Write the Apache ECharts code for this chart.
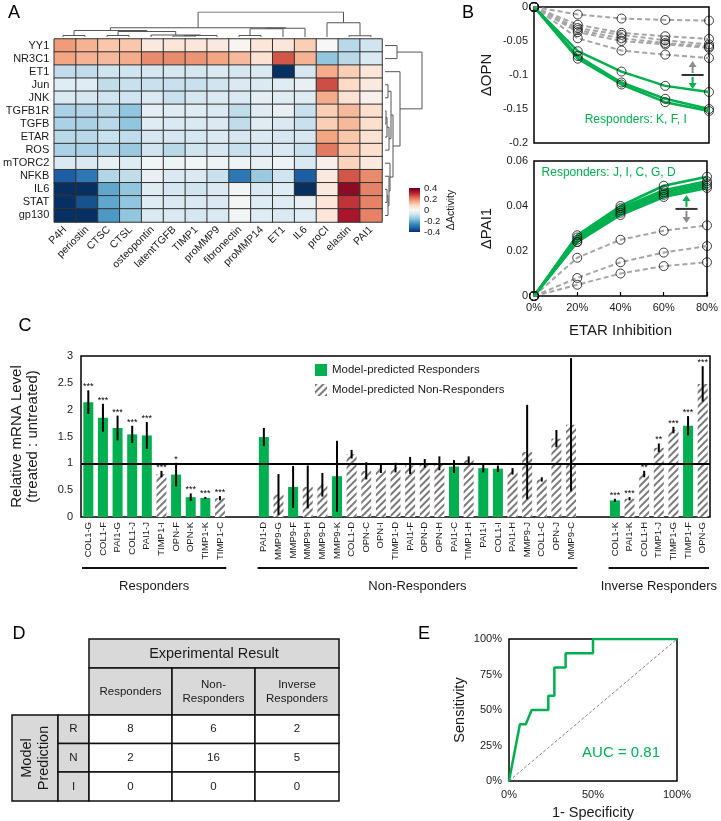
<!DOCTYPE html>
<html><head><meta charset="utf-8">
<script src="https://cdn.jsdelivr.net/npm/echarts@6/dist/echarts.min.js"></script>
<style>html,body{margin:0;padding:0;background:#fff}#c{width:721px;height:821px}</style>
</head><body><div id="c"></div>
<script>
const FONT = '"Liberation Sans", Arial, sans-serif';
const GREEN = '#00b050';
const TXT = '#1a1a1a';

// ---------- Panel A data ----------
const heatCols = ['P4H','periostin','CTSC','CTSL','osteopontin','latentTGFB','TIMP1','proMMP9','fibronectin','proMMP14','ET1','IL6','proCI','elastin','PAI1'];
const heatRows = ['YY1','NR3C1','ET1','Jun','JNK','TGFB1R','TGFB','ETAR','ROS','mTORC2','NFKB','IL6','STAT','gp130'];
const heatValues = [
  [0.17,0.14,0.11,0.11,0.04,0.05,0.05,0.04,0.01,0.05,0.05,0.10,0.00,-0.11,-0.08],
  [0.16,0.14,0.13,0.15,0.19,0.19,0.18,0.16,0.13,0.06,0.25,0.14,-0.16,-0.11,-0.06],
  [-0.10,-0.10,-0.08,-0.08,-0.07,-0.07,-0.07,-0.06,-0.07,-0.06,-0.45,-0.07,0.15,0.10,0.05],
  [-0.05,-0.05,-0.10,-0.09,-0.09,-0.09,-0.09,-0.08,-0.06,-0.06,-0.05,-0.03,0.26,0.08,0.04],
  [-0.06,-0.07,-0.08,-0.08,-0.06,-0.09,-0.07,-0.06,-0.06,-0.04,-0.05,-0.05,0.15,0.06,0.02],
  [-0.13,-0.12,-0.11,-0.16,-0.04,-0.05,-0.05,-0.06,-0.10,-0.05,-0.03,-0.09,0.10,0.13,0.07],
  [-0.13,-0.13,-0.11,-0.16,-0.05,-0.06,-0.06,-0.06,-0.10,-0.05,-0.06,-0.09,0.10,0.13,0.07],
  [-0.11,-0.11,-0.09,-0.10,-0.07,-0.07,-0.07,-0.06,-0.07,-0.06,-0.07,-0.07,0.16,0.11,0.06],
  [-0.13,-0.13,-0.12,-0.15,-0.08,-0.11,-0.08,-0.07,-0.09,-0.07,-0.06,-0.09,0.21,0.11,0.07],
  [-0.06,-0.06,-0.03,-0.05,-0.01,-0.02,-0.01,-0.02,-0.02,-0.03,-0.02,-0.06,0.02,0.09,0.04],
  [-0.33,-0.29,-0.12,-0.10,-0.03,-0.06,-0.06,-0.09,-0.29,-0.15,-0.08,-0.33,0.04,0.25,0.19],
  [-0.45,-0.45,-0.21,-0.16,-0.05,-0.07,-0.08,-0.06,-0.01,-0.06,-0.05,-0.45,0.04,0.36,0.20],
  [-0.45,-0.35,-0.21,-0.16,-0.05,-0.06,-0.06,-0.06,-0.01,-0.05,-0.05,-0.03,0.05,0.29,0.20],
  [-0.45,-0.45,-0.23,-0.16,-0.06,-0.06,-0.07,-0.06,-0.01,-0.05,-0.06,-0.05,0.05,0.33,0.20]
];
const colorbarTicks = [-0.4, 0.4, 0.2];
// dendrogram linkages: [childA, childB, height]
const colMerges = [[5,6,0.04],[15,7,0.06],[4,16,0.08],[2,3,0.06],[18,17,0.22],[0,1,0.06],[20,19,0.26],[8,9,0.06],[22,10,0.33],[23,11,0.35],[21,24,0.37],[13,14,0.05],[12,26,0.57],[25,27,1.0]];
const rowMerges = [[0,1,12],[5,6,1],[15,7,2],[16,8,4],[3,4,3],[18,17,6],[11,12,2],[20,13,3],[10,21,4],[9,22,5],[19,23,8],[2,24,15],[14,25,37]];

// ---------- Panel B data ----------
const etarLevels = [0,20,40,60,80];
const opnGray = [
  [0,-0.011,-0.017,-0.019,-0.020],
  [0,-0.026,-0.038,-0.043,-0.047],
  [0,-0.031,-0.041,-0.049,-0.055],
  [0,-0.034,-0.046,-0.053,-0.058],
  [0,-0.037,-0.050,-0.055,-0.060],
  [0,-0.046,-0.064,-0.070,-0.075]
];
const opnGreen = [
  [0,-0.065,-0.095,-0.116,-0.125],
  [0,-0.072,-0.111,-0.135,-0.150],
  [0,-0.076,-0.114,-0.140,-0.153]
];
const pai1Gray = [
  [0,0.017,0.025,0.029,0.0314],
  [0,0.008,0.015,0.0193,0.0222],
  [0,0.005,0.010,0.0133,0.015]
];
const pai1Green = [
  [0,0.027,0.040,0.049,0.053],
  [0,0.026,0.039,0.047,0.051],
  [0,0.025,0.038,0.046,0.050],
  [0,0.024,0.037,0.045,0.049],
  [0,0.024,0.036,0.044,0.048]
];

// ---------- Panel C data ----------
const respGenes = ['COL1-G','COL1-F','PAI1-G','COL1-J','PAI1-J','TIMP1-I','OPN-F','OPN-K','TIMP1-K','TIMP1-C'];
const respMeans = [2.14,1.85,1.66,1.54,1.52,0.80,0.79,0.37,0.355,0.35];
const respErr   = [0.22,0.26,0.23,0.16,0.25,0.06,0.22,0.07,0.02,0.04];
const respPred  = ['R','R','R','R','R','N','R','R','R','N'];
const respSig   = ['***','***','***','***','***','***','*','***','***','***'];
const nonGenes = ['PAI1-D','MMP9-G','MMP9-F','MMP9-H','MMP9-D','MMP9-K','COL1-D','OPN-C','OPN-I','TIMP1-D','PAI1-F','OPN-D','OPN-H','PAI1-C','TIMP1-H','PAI1-I','COL1-I','PAI1-H','MMP9-J','COL1-C','OPN-J','MMP9-C'];
const nonMeans = [1.49,0.42,0.56,0.56,0.60,0.76,1.17,0.86,0.90,0.92,0.96,1.00,1.00,0.94,1.06,0.91,0.90,0.85,1.21,0.70,1.46,1.72];
const nonErr   = [0.17,0.38,0.39,0.40,0.22,0.66,0.08,0.16,0.08,0.09,0.16,0.08,0.13,0.12,0.07,0.08,0.06,0.06,0.88,0.04,0.16,1.24];
const nonPred  = ['R','N','R','N','N','R','N','N','N','N','N','N','N','R','N','R','R','N','N','N','N','N'];
const nonSig   = nonGenes.map(() => '');
const invGenes = ['COL1-K','PAI1-K','COL1-H','TIMP1-J','TIMP1-G','TIMP1-F','OPN-G'];
const invMeans = [0.31,0.34,0.80,1.29,1.62,1.70,2.48];
const invErr   = [0.03,0.03,0.06,0.08,0.06,0.18,0.33];
const invPred  = ['R','N','N','N','N','R','N'];
const invSig   = ['***','***','**','**','***','***','***'];
const groupNames = ['Responders','Non-Responders','Inverse Responders'];
const mrnaTicks = [0, 3, 0.5];

// ---------- Panel D data ----------
const tableCols = ['Responders','Non-\nResponders','Inverse\nResponders'];
const tableRows = ['R','N','I'];
const tableCounts = [[8,6,2],[2,16,5],[0,0,0]];

// ---------- Panel E data ----------
const rocFpr = [0,0.065,0.10,0.135,0.234,0.234,0.27,0.27,0.337,0.337,0.5,0.5,1];
const rocTpr = [0,0.40,0.40,0.50,0.50,0.60,0.60,0.80,0.80,0.90,0.90,1.0,1.0];
const aucLabel = 'AUC = 0.81';

// ================= build =================
const RdBu = ['#053061','#2166ac','#4393c3','#92c5de','#d1e5f0','#f7f7f7','#fddbc7','#f4a582','#d6604d','#b2182b','#67001f'];

const heatData = [];
heatValues.forEach((row, r) => row.forEach((v, c) => heatData.push([c, r, v])));

function dendro(merges, n) {
  const pos = [], hgt = [];
  for (let i = 0; i < n; i++) { pos.push(i); hgt.push(0); }
  const segs = [];
  merges.forEach(([a, b, h]) => {
    segs.push([[pos[a], hgt[a]], [pos[a], h], [pos[b], h], [pos[b], hgt[b]]]);
    pos.push((pos[a] + pos[b]) / 2); hgt.push(h);
  });
  return segs;
}
const colSegs = dendro(colMerges, heatCols.length).map(s => ({coords: s}));
const rowSegs = dendro(rowMerges, heatRows.length).map(s => ({coords: s.map(p => [p[1], p[0]])}));

// Panel C categories
const cats = [], barItems = [];
function addGroup(genes, means, errs, preds, sigs) {
  genes.forEach((g, i) => {
    barItems.push({idx: cats.length, mean: means[i], err: errs[i], pred: preds[i], sig: sigs[i]});
    cats.push(g);
  });
}
addGroup(respGenes, respMeans, respErr, respPred, respSig);
const g1 = [0, cats.length - 1];
cats.push(' ', '  ');
addGroup(nonGenes, nonMeans, nonErr, nonPred, nonSig);
const g2 = [g1[1] + 3, cats.length - 1];
cats.push('   ', '    ');
addGroup(invGenes, invMeans, invErr, invPred, invSig);
const g3 = [g2[1] + 3, cats.length - 1];
const groupSpans = [g1, g2, g3];

const respData = cats.map(() => '-');
const nonData = cats.map(() => '-');
barItems.forEach(b => { if (b.pred === 'R') respData[b.idx] = b.mean; else nonData[b.idx] = b.mean; });
const errData = barItems.map(b => [b.idx, b.mean, b.err]);
const errSig = barItems.map(b => b.sig);

const hatch = {symbol: 'rect', symbolSize: 1, dashArrayX: [1, 0], dashArrayY: [1.6, 2.2], rotation: -Math.PI / 4, color: '#7a7a7a'};

const bSeries = [];
function addBLines(arr, gi, color, width, type) {
  arr.forEach(vals => bSeries.push({
    type: 'line', xAxisIndex: gi, yAxisIndex: gi, data: etarLevels.map((x, i) => [x, vals[i]]),
    symbol: 'none', lineStyle: {color: color, width: width, type: type}, silent: true, z: 3
  }));
}
addBLines(opnGray, 4, '#a6a6a6', 2, [5, 3]);
addBLines(opnGreen, 4, GREEN, 2.5, 'solid');
addBLines(pai1Gray, 5, '#a6a6a6', 2, [5, 3]);
addBLines(pai1Green, 5, GREEN, 2.5, 'solid');
function pts(arrs) { const o = []; arrs.forEach(v => etarLevels.forEach((x, i) => o.push([x, v[i]]))); return o; }
const circleStyle = {color: 'rgba(255,255,255,0)', borderColor: '#111', borderWidth: 1};
bSeries.push({type: 'scatter', xAxisIndex: 4, yAxisIndex: 4, data: pts(opnGray.concat(opnGreen)), symbol: 'circle', symbolSize: 9, itemStyle: circleStyle, z: 5, silent: true});
bSeries.push({type: 'scatter', xAxisIndex: 5, yAxisIndex: 5, data: pts(pai1Gray.concat(pai1Green)), symbol: 'circle', symbolSize: 9, itemStyle: circleStyle, z: 5, silent: true});

const axLabel = {color: TXT, fontFamily: FONT, fontSize: 11};
const frame = {show: true, borderColor: '#000', borderWidth: 1.5, backgroundColor: 'transparent'};
function hid(gi, min, max, extra) { return Object.assign({type: 'value', gridIndex: gi, min: min, max: max, show: false}, extra || {}); }
const pct = v => Math.round(v) + '%';

const chart = echarts.init(document.getElementById('c'), null, {width: 721, height: 821});
const option = {
  animation: false,
  backgroundColor: '#fff',
  textStyle: {fontFamily: FONT},
  grid: [
    {left: 52, top: 39, width: 330, height: 183},
    {left: 52, top: 12, width: 330, height: 25},
    {left: 385, top: 39, width: 38, height: 183},
    {left: 409, top: 188, width: 11, height: 44},
    Object.assign({left: 534, top: 7, width: 175, height: 136}, frame),
    Object.assign({left: 534, top: 161, width: 175, height: 135}, frame),
    Object.assign({left: 81, top: 356, width: 629, height: 161}, frame),
    Object.assign({left: 509, top: 639, width: 168, height: 142}, frame)
  ],
  xAxis: [
    {type: 'category', gridIndex: 0, data: heatCols, axisLine: {show: false}, axisTick: {show: false},
     axisLabel: {rotate: 45, interval: 0, margin: 6, color: TXT, fontFamily: FONT, fontSize: 10.5}},
    hid(1, -0.5, heatCols.length - 0.5),
    hid(2, 0, 38),
    hid(3, 0, 1),
    {type: 'value', gridIndex: 4, min: 0, max: 80, interval: 20, axisLine: {show: false}, axisTick: {show: false}, axisLabel: {show: false}, splitLine: {show: false}},
    {type: 'value', gridIndex: 5, min: 0, max: 80, interval: 20, axisLine: {show: false},
     axisTick: {show: true, inside: true, length: 4, lineStyle: {color: '#000', width: 1.2}},
     axisLabel: Object.assign({formatter: v => v + '%', margin: 6}, axLabel), splitLine: {show: false},
     name: 'ETAR Inhibition', nameLocation: 'middle', nameGap: 27, nameTextStyle: {fontSize: 15, color: TXT, fontFamily: FONT}},
    {type: 'category', gridIndex: 6, data: cats, axisLine: {show: false}, axisTick: {show: false},
     axisLabel: {rotate: 90, interval: 0, margin: 5, color: TXT, fontFamily: FONT, fontSize: 9.5}},
    {type: 'value', gridIndex: 7, min: 0, max: 1, interval: 0.5, axisLine: {show: false}, axisTick: {show: false}, splitLine: {show: false},
     axisLabel: Object.assign({formatter: v => pct(v * 100), margin: 8}, axLabel),
     name: '1- Specificity', nameLocation: 'middle', nameGap: 24, nameTextStyle: {fontSize: 14.5, color: TXT, fontFamily: FONT}}
  ],
  yAxis: [
    {type: 'category', gridIndex: 0, data: heatRows, inverse: true, axisLine: {show: false}, axisTick: {show: false},
     axisLabel: {interval: 0, margin: 5, color: TXT, fontFamily: FONT, fontSize: 11}},
    hid(1, 0, 1),
    hid(2, -0.5, heatRows.length - 0.5, {inverse: true}),
    {type: 'value', gridIndex: 3, min: colorbarTicks[0], max: colorbarTicks[1], interval: colorbarTicks[2], position: 'right',
     axisLine: {show: false}, axisTick: {show: false}, splitLine: {show: false},
     axisLabel: {margin: 4, color: TXT, fontFamily: FONT, fontSize: 9.5, hideOverlap: false, formatter: v => (Math.round(v * 10) / 10).toString()},
     name: 'ΔActivity', nameLocation: 'middle', nameRotate: 90, nameGap: 26, nameTextStyle: {fontSize: 10.5, color: TXT, fontFamily: FONT}},
    {type: 'value', gridIndex: 4, min: -0.2, max: 0, interval: 0.05, axisLine: {show: false}, axisTick: {show: false}, splitLine: {show: false},
     axisLabel: Object.assign({margin: 6}, axLabel),
     name: 'ΔOPN', nameLocation: 'middle', nameGap: 40, nameTextStyle: {fontSize: 15, color: TXT, fontFamily: FONT}},
    {type: 'value', gridIndex: 5, min: 0, max: 0.06, interval: 0.02, axisLine: {show: false}, axisTick: {show: false}, splitLine: {show: false},
     axisLabel: Object.assign({margin: 6}, axLabel),
     name: 'ΔPAI1', nameLocation: 'middle', nameGap: 40, nameTextStyle: {fontSize: 15, color: TXT, fontFamily: FONT}},
    {type: 'value', gridIndex: 6, min: mrnaTicks[0], max: mrnaTicks[1], interval: mrnaTicks[2], axisLine: {show: false}, axisTick: {show: false}, splitLine: {show: false},
     axisLabel: Object.assign({margin: 8}, axLabel),
     name: 'Relative mRNA Level\n(treated : untreated)', nameLocation: 'middle', nameGap: 40,
     nameTextStyle: {fontSize: 15, lineHeight: 16, color: TXT, fontFamily: FONT}},
    {type: 'value', gridIndex: 7, min: 0, max: 1, interval: 0.25, axisLine: {show: false}, axisTick: {show: false}, splitLine: {show: false},
     axisLabel: Object.assign({formatter: v => pct(v * 100), margin: 7}, axLabel),
     name: 'Sensitivity', nameLocation: 'middle', nameGap: 42, nameTextStyle: {fontSize: 14.5, color: TXT, fontFamily: FONT}}
  ],
  visualMap: {type: 'continuous', show: false, seriesIndex: 0, min: -0.4, max: 0.4, inRange: {color: RdBu}},
  legend: {data: ['Model-predicted Responders', 'Model-predicted Non-Responders'], orient: 'vertical', left: 315, top: 364,
    icon: 'rect', itemWidth: 12, itemHeight: 12, itemGap: 8, padding: 0, selectedMode: false,
    textStyle: {fontSize: 11.5, color: TXT, fontFamily: FONT}},
  series: [
    {type: 'heatmap', xAxisIndex: 0, yAxisIndex: 0, data: heatData, itemStyle: {borderColor: '#333', borderWidth: 1}, silent: true},
    {type: 'lines', coordinateSystem: 'cartesian2d', xAxisIndex: 1, yAxisIndex: 1, polyline: true, data: colSegs, lineStyle: {color: '#555', width: 1, opacity: 1}, silent: true},
    {type: 'lines', coordinateSystem: 'cartesian2d', xAxisIndex: 2, yAxisIndex: 2, polyline: true, data: rowSegs, lineStyle: {color: '#555', width: 1, opacity: 1}, silent: true},
    ...bSeries,
    {name: 'Model-predicted Responders', type: 'bar', xAxisIndex: 6, yAxisIndex: 6, data: respData, barWidth: 10, barGap: '-100%', itemStyle: {color: GREEN}, silent: true},
    {name: 'Model-predicted Non-Responders', type: 'bar', xAxisIndex: 6, yAxisIndex: 6, data: nonData, barWidth: 10, barGap: '-100%',
     itemStyle: {color: '#ffffff', decal: hatch}, silent: true,
     markLine: {silent: true, symbol: ['none', 'none'], label: {show: false}, lineStyle: {color: '#000', width: 2, type: 'solid'}, data: [{yAxis: 1}]}},
    {type: 'custom', xAxisIndex: 6, yAxisIndex: 6, data: errData, silent: true, z: 4,
     renderItem: function (params, api) {
       const x = api.value(0), m = api.value(1), e = api.value(2);
       const t = api.coord([x, m + e]), b = api.coord([x, m - e]);
       const s = errSig[params.dataIndex];
       return {type: 'group', children: [
         {type: 'line', shape: {x1: t[0], y1: t[1], x2: b[0], y2: b[1]}, style: {stroke: '#000', lineWidth: 2}},
         {type: 'text', x: t[0], y: t[1] + 1, style: {text: s, fill: '#000', font: '9px ' + FONT, align: 'center', verticalAlign: 'bottom', textAlign: 'center', textVerticalAlign: 'bottom'}}
       ]};
     }},
    {type: 'line', xAxisIndex: 7, yAxisIndex: 7, data: [[0, 0], [1, 1]], symbol: 'none', lineStyle: {color: '#808080', width: 1, type: [3, 2]}, silent: true},
    {type: 'line', xAxisIndex: 7, yAxisIndex: 7, data: rocFpr.map((f, i) => [f, rocTpr[i]]), symbol: 'none', lineStyle: {color: GREEN, width: 2.5}, silent: true, z: 3}
  ]
};
chart.setOption(option);

// ---------- annotations ----------
const G = [];
function txt(x, y, s, font, fill, opts) {
  return Object.assign({type: 'text', x: x, y: y, style: Object.assign({text: s, font: font, fill: fill || TXT,
    align: 'center', verticalAlign: 'middle', textAlign: 'center', textVerticalAlign: 'middle'}, (opts && opts.style) || {})},
    (opts && opts.el) || {});
}
function line(x1, y1, x2, y2, stroke, w) { return {type: 'line', shape: {x1: x1, y1: y1, x2: x2, y2: y2}, style: {stroke: stroke, lineWidth: w}}; }
// panel letters
const LF = '18px ' + FONT;
[['A', 14, 13], ['B', 468, 13], ['C', 25, 326], ['D', 19, 634], ['E', 424, 634]].forEach(p => G.push(txt(p[1], p[2], p[0], LF, '#000')));

// colorbar
const cb0 = chart.convertToPixel({gridIndex: 3}, [0, colorbarTicks[1]]);
const cb1 = chart.convertToPixel({gridIndex: 3}, [1, colorbarTicks[0]]);
G.push({type: 'rect', shape: {x: cb0[0], y: cb0[1], width: cb1[0] - cb0[0], height: cb1[1] - cb0[1]},
  style: {fill: new echarts.graphic.LinearGradient(0, 0, 0, 1, RdBu.slice().reverse().map((c, i) => ({offset: i / (RdBu.length - 1), color: c})))}});

// panel B glyphs and labels
function glyph(p, upC, downC) {
  const [cx, cy] = p;
  return [
    line(cx, cy - 2, cx, cy - 9, upC, 2), {type: 'polygon', shape: {points: [[cx - 4, cy - 8], [cx + 4, cy - 8], [cx, cy - 14]]}, style: {fill: upC}},
    line(cx, cy + 2, cx, cy + 9, downC, 2), {type: 'polygon', shape: {points: [[cx - 4, cy + 8], [cx + 4, cy + 8], [cx, cy + 14]]}, style: {fill: downC}},
    line(cx - 11, cy, cx + 11, cy, '#333', 2)
  ];
}
G.push(...glyph(chart.convertToPixel({gridIndex: 4}, [72.5, -0.1]), '#8c8c8c', GREEN));
G.push(...glyph(chart.convertToPixel({gridIndex: 5}, [70.5, 0.0387]), GREEN, '#8c8c8c'));
const r1 = chart.convertToPixel({gridIndex: 4}, [46.5, -0.166]);
G.push(txt(r1[0], r1[1], 'Responders: K, F, I', '12px ' + FONT, GREEN));
const r2 = chart.convertToPixel({gridIndex: 5}, [34.5, 0.0547]);
G.push(txt(r2[0], r2[1], 'Responders: J, I, C, G, D', '12px ' + FONT, GREEN));

// panel C group underlines
const half = 629 / cats.length / 2;
groupSpans.forEach((sp, i) => {
  const a = chart.convertToPixel({gridIndex: 6}, [sp[0], 0]);
  const b = chart.convertToPixel({gridIndex: 6}, [sp[1], 0]);
  const x1 = a[0] - half, x2 = b[0] + half;
  G.push(line(x1 + 1, 568, x2 - 1, 568, '#111', 2));
  G.push(txt((x1 + x2) / 2, 586, groupNames[i], '13px ' + FONT));
});

// panel D table
const tX = 89, tColW = [83, 83, 84], tY = [639, 668, 715, 743.5, 772, 801];
const cellStyle = fill => ({fill: fill, stroke: '#111', lineWidth: 1.5});
const GRAY = '#d9d9d9';
const tW = tColW.reduce((a, b) => a + b, 0);
G.push({type: 'rect', shape: {x: tX, y: tY[0], width: tW, height: tY[1] - tY[0]}, style: cellStyle(GRAY)});
G.push(txt(tX + tW / 2, (tY[0] + tY[1]) / 2, 'Experimental Result', '14.5px ' + FONT));
let cx = tX;
tableCols.forEach((c, j) => {
  G.push({type: 'rect', shape: {x: cx, y: tY[1], width: tColW[j], height: tY[2] - tY[1]}, style: cellStyle(GRAY)});
  G.push(txt(cx + tColW[j] / 2, (tY[1] + tY[2]) / 2, c, '11.5px ' + FONT, TXT, {style: {lineHeight: 14}}));
  cx += tColW[j];
});
G.push({type: 'rect', shape: {x: 12, y: tY[2], width: 46, height: tY[5] - tY[2]}, style: cellStyle(GRAY)});
G.push(txt(35, (tY[2] + tY[5]) / 2, 'Model\nPrediction', '14.5px ' + FONT, TXT, {style: {lineHeight: 17}, el: {rotation: Math.PI / 2}}));
tableRows.forEach((r, i) => {
  const y0 = tY[2 + i], h = tY[3 + i] - tY[2 + i];
  G.push({type: 'rect', shape: {x: 58, y: y0, width: 31, height: h}, style: cellStyle(GRAY)});
  G.push(txt(73.5, y0 + h / 2, r, '11.5px ' + FONT));
  let x = tX;
  tableCounts[i].forEach((v, j) => {
    G.push({type: 'rect', shape: {x: x, y: y0, width: tColW[j], height: h}, style: cellStyle('#fff')});
    G.push(txt(x + tColW[j] / 2, y0 + h / 2, String(v), '11.5px ' + FONT));
    x += tColW[j];
  });
});

// panel E AUC
const ap = chart.convertToPixel({gridIndex: 7}, [0.667, 0.2]);
G.push(txt(ap[0], ap[1], aucLabel, '15px ' + FONT, GREEN));

chart.setOption({graphic: G});
</script>
</body></html>
